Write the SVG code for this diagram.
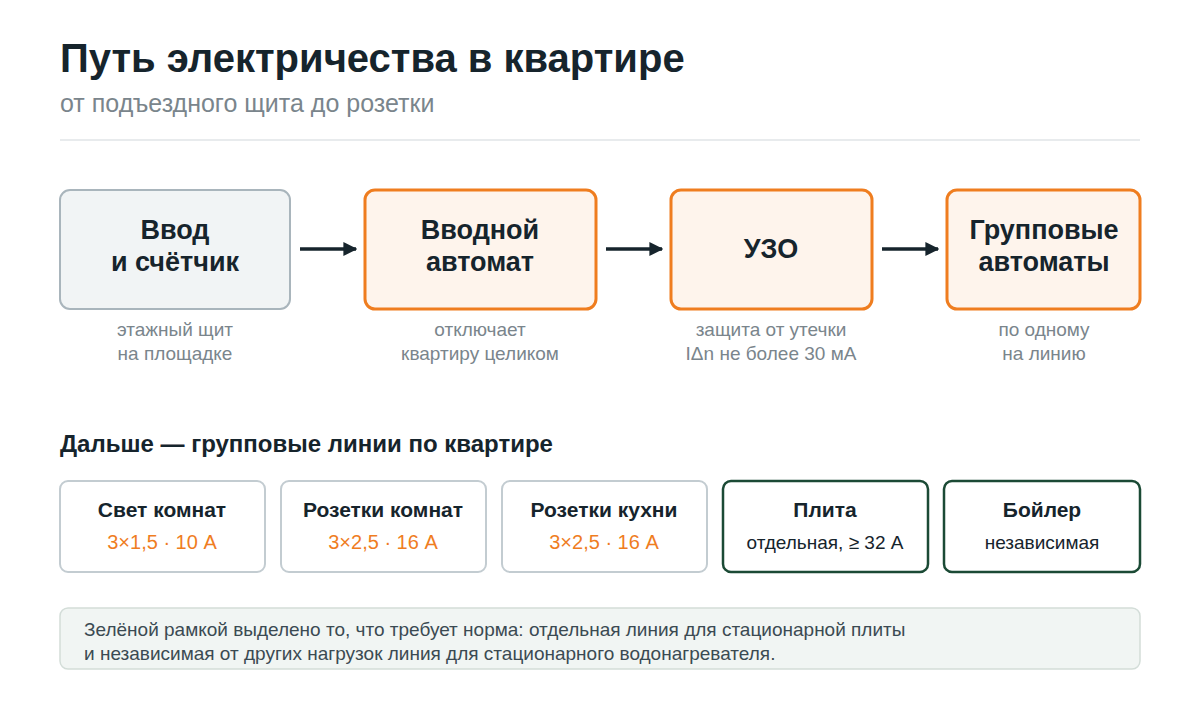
<svg xmlns="http://www.w3.org/2000/svg" width="1200" height="720" viewBox="0 0 1200 720">
<defs>
<marker id="ah" viewBox="0 0 10 10" refX="9" refY="5" markerWidth="4" markerHeight="4" orient="auto"><path d="M0,0L10,5L0,10z" fill="#16242c"/></marker>
<style>
text{font-family:"Liberation Sans",Arial,sans-serif}
.t{font-size:40px;font-weight:bold;fill:#16242c}
.st{font-size:25px;fill:#7a858c}
.nb{font-size:27px;font-weight:bold;fill:#16242c;text-anchor:middle}
.cap{font-size:19px;fill:#7a858c;text-anchor:middle}
.h2{font-size:24px;font-weight:bold;fill:#16242c}
.lb{font-size:21px;font-weight:bold;fill:#16242c;text-anchor:middle}
.or{font-size:20px;fill:#ef7d1f;text-anchor:middle}
.dk{font-size:19px;fill:#16242c;text-anchor:middle}
.note{font-size:19px;fill:#3b4a52}
.g{fill:#f1f4f5;stroke:#a9b5bc;stroke-width:2}
.o{fill:#fef4ec;stroke:#ef7d1f;stroke-width:3}
.w{fill:#fff;stroke:#c3ccd1;stroke-width:2}
.gr{fill:#fff;stroke:#1b4a35;stroke-width:2.5}
.c{stroke:#16242c;stroke-width:3.5;fill:none;marker-end:url(#ah)}
</style>
</defs>
<rect width="1200" height="720" fill="#fff"/>
<text class="t" x="60" y="72">Путь электричества в квартире</text>
<text class="st" x="60" y="112">от подъездного щита до розетки</text>
<line x1="60" y1="140" x2="1140" y2="140" stroke="#e1e5e7" stroke-width="1.5"/>
<g id="n1"><rect class="g" x="60" y="190" width="230" height="119" rx="10"/><text class="nb" x="175" y="239">Ввод</text><text class="nb" x="175" y="271">и счётчик</text><text class="cap" x="175" y="336">этажный щит</text><text class="cap" x="175" y="360">на площадке</text></g>
<g id="n2"><rect class="o" x="365" y="190" width="231" height="119" rx="10"/><text class="nb" x="480" y="239">Вводной</text><text class="nb" x="480" y="271">автомат</text><text class="cap" x="480" y="336">отключает</text><text class="cap" x="480" y="360">квартиру целиком</text></g>
<g id="n3"><rect class="o" x="671" y="190" width="201" height="119" rx="10"/><text class="nb" x="771" y="258">УЗО</text><text class="cap" x="771" y="336">защита от утечки</text><text class="cap" x="771" y="360">IΔn не более 30 мА</text></g>
<g id="n4"><rect class="o" x="947" y="190" width="193" height="119" rx="10"/><text class="nb" x="1044" y="239">Групповые</text><text class="nb" x="1044" y="271">автоматы</text><text class="cap" x="1044" y="336">по одному</text><text class="cap" x="1044" y="360">на линию</text></g>
<g id="connectors">
<line class="c" x1="300" y1="249" x2="356" y2="249"/>
<line class="c" x1="606" y1="249" x2="662" y2="249"/>
<line class="c" x1="882" y1="249" x2="938" y2="249"/>
</g>
<text class="h2" x="60" y="452">Дальше — групповые линии по квартире</text>
<g id="l1"><rect class="w" x="60" y="481" width="205" height="91" rx="8"/><text class="lb" x="162" y="517">Свет комнат</text><text class="or" x="162" y="549">3×1,5 · 10 А</text></g>
<g id="l2"><rect class="w" x="281" y="481" width="205" height="91" rx="8"/><text class="lb" x="383" y="517">Розетки комнат</text><text class="or" x="383" y="549">3×2,5 · 16 А</text></g>
<g id="l3"><rect class="w" x="502" y="481" width="205" height="91" rx="8"/><text class="lb" x="604" y="517">Розетки кухни</text><text class="or" x="604" y="549">3×2,5 · 16 А</text></g>
<g id="l4"><rect class="gr" x="723" y="481" width="205" height="91" rx="8"/><text class="lb" x="825" y="517">Плита</text><text class="dk" x="825" y="549">отдельная, ≥ 32 А</text></g>
<g id="l5"><rect class="gr" x="944" y="481" width="196" height="91" rx="8"/><text class="lb" x="1042" y="517">Бойлер</text><text class="dk" x="1042" y="549">независимая</text></g>
<g id="note"><rect x="60" y="608" width="1080" height="61" rx="8" fill="#f1f5f3" stroke="#d3ddd8" stroke-width="1.5"/>
<text class="note" x="84" y="636">Зелёной рамкой выделено то, что требует норма: отдельная линия для стационарной плиты</text>
<text class="note" x="84" y="660">и независимая от других нагрузок линия для стационарного водонагревателя.</text></g>
</svg>
